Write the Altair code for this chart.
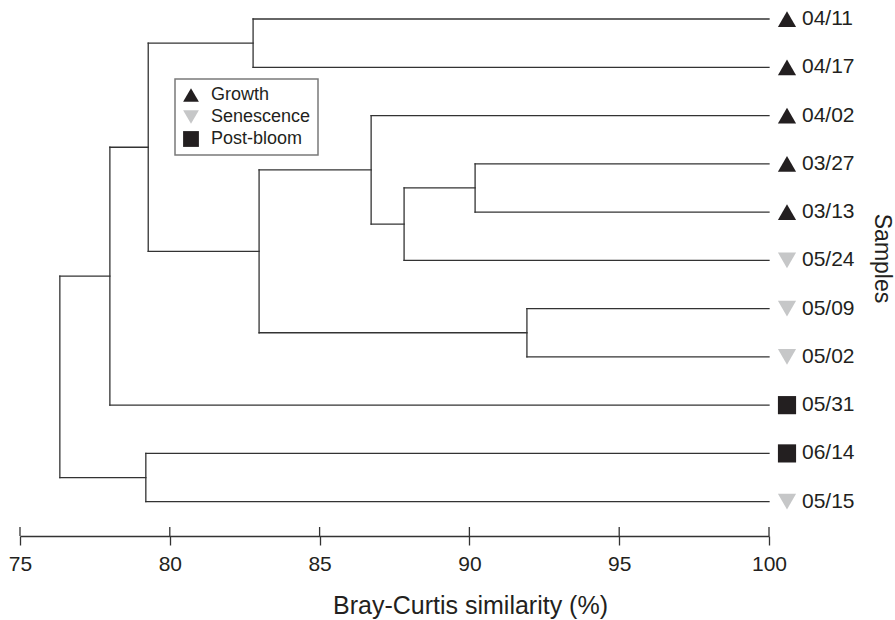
import altair as alt
import pandas as pd

# ---- data ----
leaves = ["04/11", "04/17", "04/02", "03/27", "03/13", "05/24",
          "05/09", "05/02", "05/31", "06/14", "05/15"]
phases = ["Growth", "Growth", "Growth", "Growth", "Growth", "Senescence",
          "Senescence", "Senescence", "Post-bloom", "Post-bloom", "Senescence"]

# merges (m1..m10): left child, right child, similarity (%)
merge_a = ["04/11", "03/27", "m2", "04/02", "05/09", "m4", "m1", "m7", "06/14", "m8"]
merge_b = ["04/17", "03/13", "05/24", "m3", "05/02", "m5", "m6", "05/31", "05/15", "m9"]
merge_sim = [82.78, 90.19, 87.82, 86.72, 91.92, 82.98, 79.28, 78.00, 79.20, 76.33]

phase_order = ["Growth", "Senescence", "Post-bloom"]
phase_shapes = ["triangle-up", "triangle-down", "square"]
phase_colors = ["#231f20", "#c6c7c8", "#231f20"]
x_ticks = [75, 80, 85, 90, 95, 100]

# ---- build dendrogram segments ----
pos = {name: (100.0, float(i)) for i, name in enumerate(leaves)}
segs = []
for k, (a, b, s) in enumerate(zip(merge_a, merge_b, merge_sim)):
    for child in (a, b):
        cx, cy = pos[child]
        segs.append(dict(x=cx, x2=s, y=cy, y2=cy))
    segs.append(dict(x=s, x2=s, y=pos[a][1], y2=pos[b][1]))
    pos[f"m{k + 1}"] = (s, (pos[a][1] + pos[b][1]) / 2)
seg_df = pd.DataFrame(segs)

leaf_df = pd.DataFrame({
    "leaf": leaves,
    "phase": phases,
    "y": [float(i) for i in range(len(leaves))],
    "x": [100.0] * len(leaves),
})
tick_df = pd.DataFrame({"x": x_ticks})

INK = "#231f20"
LINE = "#333333"
FONT = "Liberation Sans"

xscale = alt.Scale(domain=[75, 100], nice=False, zero=False)
yscale = alt.Scale(domain=[-0.394, 10.711], reverse=True, nice=False, zero=False)

xaxis = alt.Axis(
    values=x_ticks, orient="bottom", grid=False, format="d", labelFlush=False,
    tickSize=9, tickWidth=1.3, tickColor=LINE,
    domainColor=LINE, domainWidth=1.3,
    labelFontSize=21, labelColor=INK, labelPadding=8, labelFont=FONT,
    titleFontSize=25, titleFontWeight="normal", titleColor=INK, titleFont=FONT,
    titleX=450, titleY=77, titleAlign="center", titleBaseline="alphabetic",
)
yaxis = alt.Axis(
    orient="right", labels=False, ticks=False, domain=False, grid=False,
    titleAngle=90, titleFontSize=23,
    titleFontWeight="normal", titleColor=INK, titleFont=FONT,
    titleX=112, titleY=258, titleAlign="center", titleBaseline="middle",
)
XT = "Bray-Curtis similarity (%)"
YT = "Samples"

rules = alt.Chart(seg_df).mark_rule(
    color=LINE, strokeWidth=1.3, strokeCap="square"
).encode(
    x=alt.X("x:Q", scale=xscale, axis=xaxis, title=XT),
    x2="x2:Q",
    y=alt.Y("y:Q", scale=yscale, axis=yaxis, title=YT),
    y2="y2:Q",
)

up_ticks = alt.Chart(tick_df).mark_rule(color=LINE, strokeWidth=1.3).encode(
    x=alt.X("x:Q", scale=xscale, axis=xaxis, title=XT),
    y=alt.value(527),
    y2=alt.value(536),
)

points = alt.Chart(leaf_df).mark_point(
    filled=True, size=330, opacity=1, xOffset=18
).encode(
    x=alt.X("x:Q", scale=xscale, axis=xaxis, title=XT),
    y=alt.Y("y:Q", scale=yscale, axis=yaxis, title=YT),
    shape=alt.Shape("phase:N", scale=alt.Scale(domain=phase_order, range=phase_shapes),
                    legend=alt.Legend(
                        title=None, orient="none", legendX=155, legendY=79,
                        strokeColor="#7a7a7a", padding=7,
                        labelFontSize=18, labelColor=INK, labelFont=FONT,
                        labelOffset=11, rowPadding=4, symbolSize=250,
                        symbolStrokeWidth=0,
                        labelExpr="datum.label + '\u00a0\u00a0\u00a0'",
                    )),
    color=alt.Color("phase:N", scale=alt.Scale(domain=phase_order, range=phase_colors)),
)

labels = alt.Chart(leaf_df).mark_text(
    align="left", baseline="middle", dx=33, fontSize=21, color=INK, font=FONT
).encode(
    x=alt.X("x:Q", scale=xscale, axis=xaxis, title=XT),
    y=alt.Y("y:Q", scale=yscale, axis=yaxis, title=YT),
    text="leaf:N",
)

chart = alt.layer(rules, up_ticks, points, labels).resolve_scale(
    x="shared", y="shared"
).properties(
    width=749, height=536,
    autosize=alt.AutoSizeParams(type="none"),
    padding={"left": 20, "top": 0, "right": 126, "bottom": 84},
).configure(font=FONT).configure_view(stroke=None).configure_legend(strokeWidth=1.5)

chart.save("out.html", embed_options={"renderer": "svg", "actions": False})
